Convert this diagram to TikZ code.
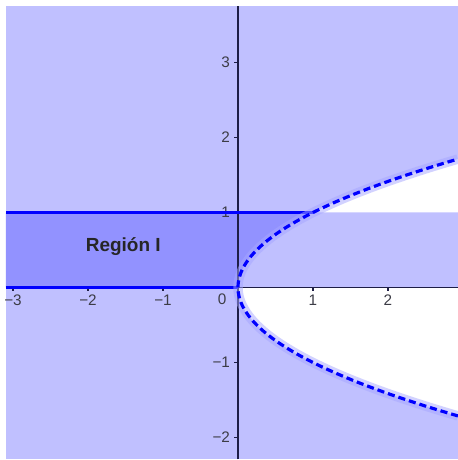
\documentclass[tikz,border=0pt]{standalone}
\usepackage{fontspec}
\setmainfont{Liberation Sans}
\definecolor{kback}{RGB}{192,192,255}
\definecolor{kregion}{RGB}{146,146,255}
\definecolor{kaxis}{RGB}{30,30,70}
\definecolor{klabel}{RGB}{60,60,70}
\tikzset{
  ticklab/.style={font=\fontsize{5.8}{7}\selectfont, text=klabel, inner sep=0pt},
  regionlab/.style={font=\bfseries\fontsize{7.2}{8}\selectfont, text=black!85},
  axisline/.style={kaxis, line width=0.45pt},
  boundline/.style={blue, line width=1.3pt},
  curveglow/.style={blue!35, opacity=0.5, line width=3.6pt},
  curveline/.style={blue, line width=1.2pt, dash pattern=on 2.7pt off 1.5pt},
}

\begin{document}
\begin{tikzpicture}
    \useasboundingbox (-3.173,-2.30) rectangle (2.933,3.833);
    \fill[kback] (-3.093,-2.29) rectangle (2.933,3.75);
    \fill[white] (1,1) -- plot[domain=1:1.7126, samples=30] ({\x*\x},\x) -- (2.933,1) -- cycle;
    \fill[white] (0,0) -- plot[domain=0:-1.7126, samples=40] ({\x*\x},\x) -- (2.933,0) -- cycle;
    \fill[kregion] (-3.093,0) -- plot[domain=0:1, samples=30] ({\x*\x},\x) -- (-3.093,1) -- cycle;
    \draw[axisline] (-3.093,0) -- (2.933,0);
    \draw[axisline] (0,-2.29) -- (0,3.75);
    \foreach \x/\t in {-3/−3,-2/−2,-1/−1,1/1,2/2} {
      \draw[axisline] (\x,0) -- (\x,-0.05);
      \node[ticklab] (xt\x) at (\x,-0.17) {\t};
    }
    \foreach \y/\t in {-2/−2,-1/−1,1/1,2/2,3/3} {
      \draw[axisline] (0,\y) -- (-0.05,\y);
      \node[ticklab, anchor=east] (yt\y) at (-0.1,\y) {\t};
    }
    \node[ticklab] (origin) at (-0.21,-0.16) {0};
    \draw[boundline] (-3.093,0) -- (0,0);
    \draw[boundline] (-3.093,1) -- (1,1);
    \draw[curveglow] plot[domain=-1.7126:1.7126, samples=80] ({\x*\x},\x);
    \draw[curveline] plot[domain=-1.7126:1.7126, samples=80] ({\x*\x},\x);
    \node[regionlab] (regionI) at (-1.53,0.55) {Región I};
  \end{tikzpicture}
\end{document}
